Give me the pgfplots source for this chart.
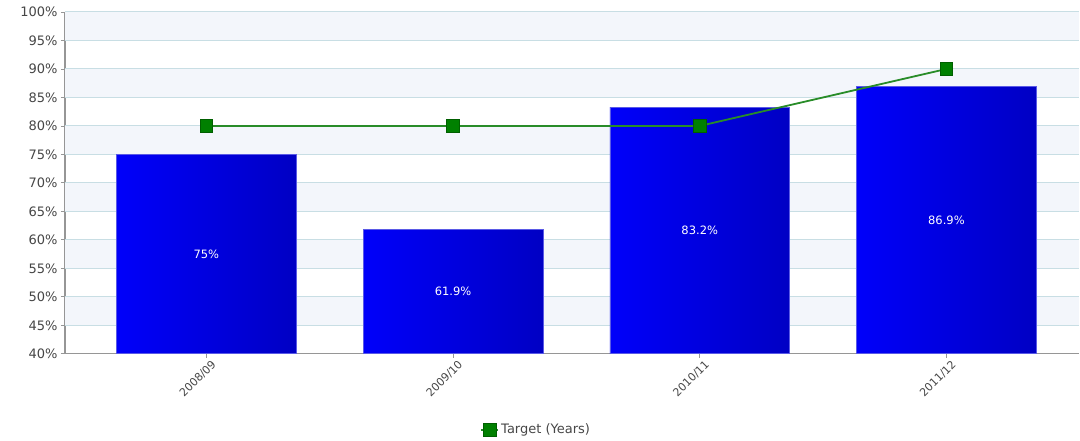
\documentclass[border=0pt]{standalone}
\usepackage{pgfplots}
\pgfplotsset{compat=1.18}
\usepackage{pgfplotstable}
\usepackage{fontspec}
\setmainfont{DejaVu Sans}

\definecolor{gridc}{RGB}{200,222,228}
\definecolor{bandc}{RGB}{243,246,251}
\definecolor{axisc}{RGB}{150,150,150}
\definecolor{labc}{RGB}{70,70,70}
\definecolor{barL}{RGB}{0,0,250}
\definecolor{barR}{RGB}{0,0,196}
\definecolor{barEdge}{RGB}{90,90,230}
\definecolor{tline}{RGB}{40,140,40}
\definecolor{tmark}{RGB}{0,128,0}
\definecolor{tmarkd}{RGB}{0,95,0}

% target per year (%)
\pgfplotstableread{
x t
0 80
1 80
2 80
3 90
}\target

\begin{document}
\begin{tikzpicture}
\begin{axis}[
  name=ax,
  scale only axis, width=1015pt, height=342pt,
  xmin=-0.573, xmax=3.539,
  ymin=40, ymax=100,
  ytick={40,45,...,100},
  yticklabel={\pgfmathprintnumber{\tick}\%},
  xtick={0,1,2,3},
  xticklabels={2008/09,2009/10,2010/11,2011/12},
  /pgf/number format/assume math mode=true,
  ticklabel style={font=\fontsize{13}{15}\selectfont, text=labc},
  xticklabel style={font=\fontsize{11}{13}\selectfont, rotate=45, anchor=east,
    inner sep=2pt, xshift=4pt, yshift=-9pt},
  tick align=outside,
  major tick length=4pt,
  tick style={axisc, line width=0.8pt},
  axis x line*=bottom,
  axis y line*=left,
  axis line style={axisc, line width=1.2pt},
  legend style={at={(0.4645,-0.222)}, anchor=center, draw=none, fill=none,
    font=\fontsize{13}{15}\selectfont, text=labc},
  achbar/.style={ybar, bar width=0.729, draw=barEdge, line width=0.6pt,
    left color=barL, right color=barR, forget plot},
]
% alternating horizontal bands
\addplot[fill=bandc, draw=none, forget plot] coordinates {(-0.573,45) (3.539,45) (3.539,50) (-0.573,50)} -- cycle;
\addplot[fill=bandc, draw=none, forget plot] coordinates {(-0.573,55) (3.539,55) (3.539,60) (-0.573,60)} -- cycle;
\addplot[fill=bandc, draw=none, forget plot] coordinates {(-0.573,65) (3.539,65) (3.539,70) (-0.573,70)} -- cycle;
\addplot[fill=bandc, draw=none, forget plot] coordinates {(-0.573,75) (3.539,75) (3.539,80) (-0.573,80)} -- cycle;
\addplot[fill=bandc, draw=none, forget plot] coordinates {(-0.573,85) (3.539,85) (3.539,90) (-0.573,90)} -- cycle;
\addplot[fill=bandc, draw=none, forget plot] coordinates {(-0.573,95) (3.539,95) (3.539,100) (-0.573,100)} -- cycle;
% horizontal grid lines
\pgfplotsinvokeforeach{45,50,...,100}{
  \addplot[gridc, line width=1pt, forget plot] coordinates {(-0.573,#1) (3.539,#1)};
}
% achievement bars, one path each so every bar gets its own shading
\addplot[achbar] coordinates {(0,75)};
\addplot[achbar] coordinates {(1,61.9)};
\addplot[achbar] coordinates {(2,83.2)};
\addplot[achbar] coordinates {(3,86.9)};
% value labels in the middle of each bar
\addplot[draw=none, forget plot, nodes near coords,
  point meta=explicit symbolic,
  every node near coord/.append style={anchor=center, text=white,
    font=\fontsize{11.5}{13}\selectfont}]
  coordinates {(0,57.5) [75\%] (1,50.95) [61.9\%] (2,61.6) [83.2\%] (3,63.45) [86.9\%]};
\addplot[tline, line width=1.8pt, mark=square*, mark size=6.3pt,
  mark options={fill=tmark, draw=tmarkd, line width=0.5pt}]
  table[x=x, y=t] {\target};
\addlegendentry{Target (Years)}
\end{axis}
\path (ax.south west) ++(-65pt,-87pt) rectangle ++(1080pt,441pt);
\end{tikzpicture}
\end{document}
